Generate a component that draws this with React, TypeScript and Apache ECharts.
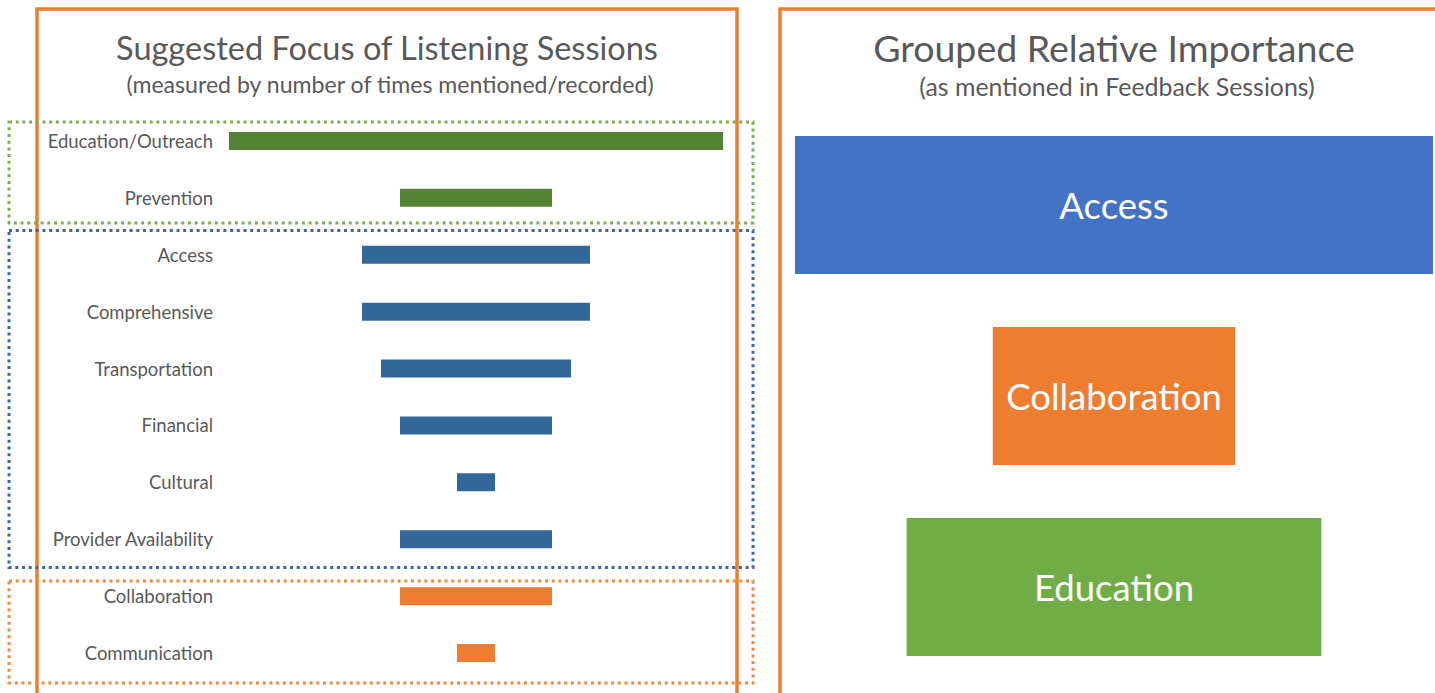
import React, { useEffect, useRef } from "react";
import * as echarts from "echarts";

const focusCategories = [
  "Education/Outreach",
  "Prevention",
  "Access",
  "Comprehensive",
  "Transportation",
  "Financial",
  "Cultural",
  "Provider Availability",
  "Collaboration",
  "Communication",
];
const focusValues = [13, 4, 6, 6, 5, 4, 1, 4, 4, 1];
const focusGroups = ["edu", "edu", "acc", "acc", "acc", "acc", "acc", "acc", "col", "col"];

const groupCategories = ["Access", "Collaboration", "Education"];
const groupValues = [100, 38, 65];

const barColors: Record<string, string> = { edu: "#548235", acc: "#336699", col: "#ED7D31" };
const groupColors = ["#4472C4", "#ED7D31", "#70AD47"];

const FONT = "Lato, 'Open Sans', sans-serif";
const TEXT = "#595959";

export default function App() {
  const ref = useRef<HTMLDivElement>(null);
  useEffect(() => {
    if (!ref.current) return;
    const chart = echarts.init(ref.current, null, { renderer: "svg" });
    const fMax = Math.max(...focusValues);
    const gMax = Math.max(...groupValues);
    const dotted = (stroke: string) => ({ fill: "none", stroke, lineWidth: 3, lineDash: [3, 3.7] });
    chart.setOption({
      animation: false,
      grid: [
        { left: 229, width: 494, top: 112.5, height: 569 },
        { left: 795, width: 638, top: 109.5, height: 573 },
      ],
      xAxis: [
        { gridIndex: 0, type: "value", min: 0, max: fMax, show: false },
        { gridIndex: 1, type: "value", min: 0, max: gMax, show: false },
      ],
      yAxis: [
        {
          gridIndex: 0,
          type: "category",
          inverse: true,
          data: focusCategories,
          axisLine: { show: false },
          axisTick: { show: false },
          splitLine: { show: false },
          axisLabel: { color: TEXT, fontSize: 18.5, fontFamily: FONT, margin: 16 },
        },
        {
          gridIndex: 1,
          type: "category",
          inverse: true,
          data: groupCategories,
          show: false,
        },
      ],
      series: [
        {
          type: "bar",
          xAxisIndex: 0,
          yAxisIndex: 0,
          stack: "f",
          barWidth: 18,
          silent: true,
          itemStyle: { color: "transparent" },
          data: focusValues.map((v) => (fMax - v) / 2),
        },
        {
          type: "bar",
          xAxisIndex: 0,
          yAxisIndex: 0,
          stack: "f",
          barWidth: 18,
          data: focusValues.map((v, i) => ({ value: v, itemStyle: { color: barColors[focusGroups[i]] } })),
        },
        {
          type: "bar",
          xAxisIndex: 1,
          yAxisIndex: 1,
          stack: "g",
          barWidth: 138,
          silent: true,
          itemStyle: { color: "transparent" },
          data: groupValues.map((v) => (gMax - v) / 2),
        },
        {
          type: "bar",
          xAxisIndex: 1,
          yAxisIndex: 1,
          stack: "g",
          barWidth: 138,
          label: {
            show: true,
            position: "inside",
            formatter: "{b}",
            color: "#ffffff",
            fontSize: 36.5,
            fontFamily: FONT,
          },
          data: groupValues.map((v, i) => ({ value: v, itemStyle: { color: groupColors[i] } })),
        },
      ],
      graphic: [
        { type: "rect", shape: { x: 37, y: 9, width: 700, height: 720 }, style: { fill: "none", stroke: "#ED7D31", lineWidth: 3.5 }, z: 10 },
        { type: "rect", shape: { x: 780, y: 9, width: 700, height: 720 }, style: { fill: "none", stroke: "#ED7D31", lineWidth: 3.5 }, z: 10 },
        { type: "rect", shape: { x: 9, y: 122, width: 744, height: 101 }, style: dotted("#7FAE4E"), z: 10 },
        { type: "rect", shape: { x: 9, y: 230.5, width: 744, height: 337 }, style: dotted("#3A66A6"), z: 10 },
        { type: "rect", shape: { x: 9, y: 581, width: 744, height: 102 }, style: dotted("#F08A3E"), z: 10 },
        { type: "text", x: 387, y: 47, style: { text: "Suggested Focus of Listening Sessions", fill: TEXT, fontSize: 32.5, fontFamily: FONT, textAlign: "center", textVerticalAlign: "middle" } },
        { type: "text", x: 390, y: 84, style: { text: "(measured by number of times mentioned/recorded)", fill: TEXT, fontSize: 23.1, fontFamily: FONT, textAlign: "center", textVerticalAlign: "middle" } },
        { type: "text", x: 1114, y: 47, style: { text: "Grouped Relative Importance", fill: TEXT, fontSize: 37.5, fontFamily: FONT, textAlign: "center", textVerticalAlign: "middle" } },
        { type: "text", x: 1117, y: 86, style: { text: "(as mentioned in Feedback Sessions)", fill: TEXT, fontSize: 24.9, fontFamily: FONT, textAlign: "center", textVerticalAlign: "middle" } },
      ],
    });
    return () => chart.dispose();
  }, []);
  return (
    <div
      ref={ref}
      style={{ position: "fixed", left: 0, top: 0, width: 1435, height: 693, background: "#ffffff" }}
    />
  );
}
